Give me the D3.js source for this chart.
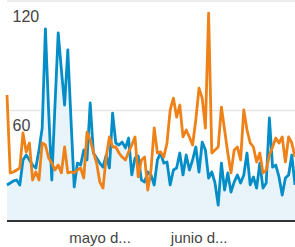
<!DOCTYPE html>
<html><head><meta charset="utf-8">
<script src="https://cdn.jsdelivr.net/npm/d3@7"></script>
<style>html,body{margin:0;padding:0;background:#fff;overflow:hidden}</style>
</head><body>
<svg id="c" width="295" height="247"></svg>
<script>
const startDate = "2024-04-01";
const seriesBlue = [19.2,20.3,21.4,21.9,19.2,32.9,35.6,32.9,30.1,28.5,38.4,50.4,104.7,60.3,21.9,63,102.5,82.2,63,93.2,54.8,18.1,31.2,30.1,38.4,32.9,64.1,36.7,34,31.2,29,35.6,28.5,58.6,42.2,41.1,42.7,39.5,44.9,24.7,34,35.1,21.9,20.8,26.3,24.7,19.2,32.9,36.7,31.2,31.8,19.2,27.4,28.5,36.7,24.7,35.6,27.4,32.9,40,26.3,42.7,38.4,23,26.3,20.3,8.2,31.2,16.4,25.8,15.3,20.8,24.7,20.3,24.7,36.7,19.2,23.6,17.5,31.2,17.5,20.3,55.9,29,30.1,23.6,13.7,23,24.7,35.6,19.2];
const seriesOrange = [68.5,25.8,26.3,27.4,28.5,47.7,37.3,42.2,21.9,26.3,21.9,42.2,41.1,34,31.2,27.4,30.1,25.8,40,25.8,26.3,25.8,27.4,28.5,23,48.2,43.8,37.3,31.2,20.8,17.5,34.5,45.5,40,40,36.7,34.5,32.9,37.3,41.1,45.5,23.6,32.9,34.5,16.4,27.4,50.4,36.7,37.3,34.5,42.2,60.3,66.8,56.4,63,45.5,49.3,45.5,41.1,54.8,72.3,66.8,50.4,113.4,36.7,38.4,40,61.9,49.3,36.7,25.8,38.4,40,32.9,60.3,49.3,42.2,40,31.8,36.7,25.8,27.4,35.6,40,44.9,42.2,45.5,31.8,45.5,42.2,34.5];
const yTicks = [60, 120];
const xTickDates = ["2024-05-01", "2024-06-01"];
const xTickLabels = ["mayo d...", "junio d..."];

(function () {
const parse = d3.utcParse("%Y-%m-%d");
const t0 = parse(startDate);
const dates = seriesBlue.map((_, i) => d3.utcDay.offset(t0, i));

const svg = d3.select("#c");
const mLeft = 7, mRight = 295, mTop = 1, mBottom = 220;
const x = d3.scaleUtc().domain([dates[0], dates[dates.length - 1]]).range([mLeft, mRight]);
const y = d3.scaleLinear().domain([0, 120]).range([mBottom, mTop]);

svg.append("g").selectAll("line").data(yTicks).join("line")
  .attr("x1", mLeft).attr("x2", mRight)
  .attr("y1", d => y(d)).attr("y2", d => y(d))
  .attr("stroke", "#e6e6e6").attr("stroke-width", 1.5);

const area = d3.area().x((d, i) => x(dates[i])).y0(y(0)).y1(d => y(d));
svg.append("path").datum(seriesBlue).attr("d", area).attr("fill", "#e8f4fa");

const line = d3.line().x((d, i) => x(dates[i])).y(d => y(d));
svg.append("path").datum(seriesBlue).attr("d", line)
  .attr("fill", "none").attr("stroke", "#058dc7").attr("stroke-width", 2.8).attr("stroke-linejoin", "round");
svg.append("path").datum(seriesOrange).attr("d", line)
  .attr("fill", "none").attr("stroke", "#ef8119").attr("stroke-width", 2.8).attr("stroke-linejoin", "round");

svg.append("line").attr("x1", mLeft).attr("x2", mRight)
  .attr("y1", y(0) + 1).attr("y2", y(0) + 1)
  .attr("stroke", "#333").attr("stroke-width", 2);

svg.append("g").selectAll("text").data(yTicks).join("text")
  .attr("x", 12.5).attr("y", d => y(d) + 20.5)
  .attr("font-family", "Liberation Sans, Arial, sans-serif").attr("font-size", 16)
  .attr("fill", "#444").text(d => d);

svg.append("g").selectAll("text").data(xTickDates).join("text")
  .attr("x", d => x(parse(d)) - 3).attr("y", 243)
  .attr("text-anchor", "middle")
  .attr("font-family", "Liberation Sans, Arial, sans-serif").attr("font-size", 15)
  .attr("fill", "#444").text((d, i) => xTickLabels[i]);
})();
</script>
</body></html>
